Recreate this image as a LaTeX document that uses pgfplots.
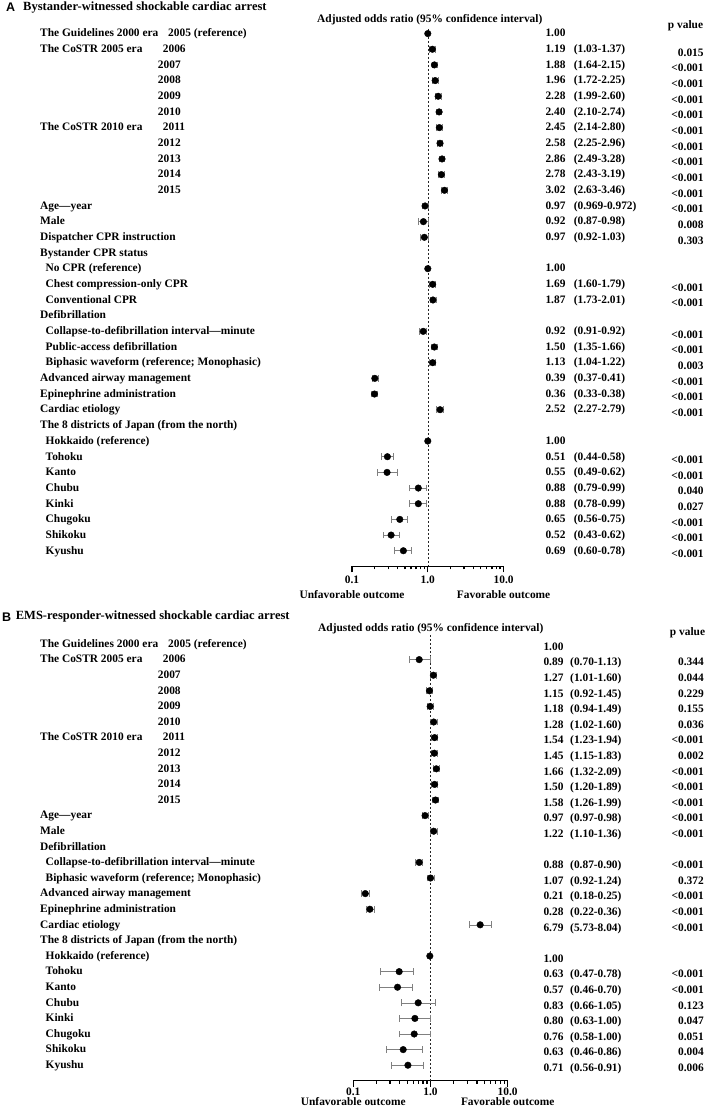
\documentclass[border=0pt]{standalone}
\usepackage{fontspec}
\setmainfont{Liberation Serif}
\newfontfamily\panelfont{Liberation Sans}
\usepackage{pgfplots}
\usepackage{pgfplotstable}
\pgfplotsset{compat=1.18}

\newcommand\fs{\fontsize{11.4}{13}\selectfont\bfseries}
\newcommand\yr[1]{\hspace*{117.7pt}#1}
\newcommand\ind[1]{\hspace*{5.5pt}#1}
\newcommand\era[2]{\makebox[122.7pt][l]{#1}#2}
\tikzset{txt/.style={font=\fs, inner sep=0pt, text height=0.66em, text depth=0pt}}

% panel A: estimate and CI text, p value
\newcommand\resA[4]{%
  \node[txt,anchor=west,xshift=41.7pt] at (axis cs:10,#1) {#2};
  \node[txt,anchor=west,xshift=70pt] at (axis cs:10,#1) {#3};
  \node[txt,anchor=east,xshift=200.2pt,yshift=-3.5pt] at (axis cs:10,#1) {#4};}
\newcommand\resB[4]{%
  \node[txt,anchor=west,xshift=35.6pt,yshift=-3pt] at (axis cs:10,#1) {#2};
  \node[txt,anchor=west,xshift=62.3pt,yshift=-3pt] at (axis cs:10,#1) {#3};
  \node[txt,anchor=east,xshift=196.3pt,yshift=-3pt] at (axis cs:10,#1) {#4};}

% plotted positions (as drawn)
\pgfplotstableread{
row or lo hi
1 1.15 1.05 1.27
2 1.22 1.13 1.33
3 1.25 1.15 1.36
4 1.37 1.26 1.49
5 1.41 1.30 1.53
6 1.42 1.31 1.54
7 1.45 1.34 1.57
8 1.54 1.42 1.67
9 1.51 1.39 1.64
10 1.66 1.53 1.80
11 0.92 0.84 1.01
12 0.875 0.75 1.02
13 0.90 0.80 1.01
16 1.16 1.06 1.27
17 1.17 1.07 1.28
19 0.87 0.78 0.97
20 1.22 1.11 1.33
21 1.16 1.06 1.27
22 0.20 0.184 0.222
23 0.198 0.18 0.217
24 1.45 1.31 1.60
27 0.293 0.24 0.35
28 0.29 0.216 0.39
29 0.75 0.57 0.97
30 0.75 0.57 0.97
31 0.427 0.335 0.54
32 0.328 0.255 0.418
33 0.476 0.363 0.615
}\ciA
\pgfplotstableread{
row or
0 1.0
15 1.0
26 1.0
}\refA
\pgfplotstableread{
row or lo hi
1 0.714 0.53 0.99
2 1.09 1.00 1.19
3 0.97 0.89 1.06
4 0.99 0.90 1.09
5 1.10 1.00 1.21
6 1.13 1.03 1.24
7 1.12 1.02 1.23
8 1.19 1.08 1.31
9 1.13 1.03 1.24
10 1.16 1.06 1.28
11 0.85 0.78 0.93
12 1.10 1.00 1.21
14 0.714 0.645 0.79
15 1.0 0.90 1.12
16 0.143 0.128 0.161
17 0.164 0.146 0.185
18 4.4 3.2 6.05
21 0.393 0.223 0.60
22 0.374 0.219 0.574
23 0.693 0.42 1.15
24 0.628 0.40 1.0
25 0.615 0.40 1.0
26 0.443 0.264 0.78
27 0.51 0.31 0.80
}\ciB
\pgfplotstableread{
row or
20 0.98
}\refB

\begin{document}
\begin{tikzpicture}
\useasboundingbox (0,0) rectangle (709pt,-1111pt);

% ---------- panel A ----------
\node[anchor=west, inner sep=0pt, font=\panelfont\fontsize{12.5}{14}\selectfont\bfseries] at (6pt,-7.5pt) {A};
\node[anchor=west, inner sep=0pt, font=\fontsize{12.5}{14}\selectfont\bfseries] at (23pt,-7.5pt) {Bystander-witnessed shockable cardiac arrest};
\node[txt] at (429.8pt,-19pt) {Adjusted odds ratio (95\% confidence interval)};
\node[txt] at (685.5pt,-25pt) {p value};

\begin{axis}[
  scale only axis, xmode=log, xmin=0.1, xmax=10, y dir=reverse,
  axis x line*=bottom, axis y line*=left,
  x axis line style={-, line width=1.3pt},
  y axis line style={draw=none},
  xtick={0.1,1,10}, xticklabels={0.1,1.0,10.0}, minor xtick={},
  tick align=outside, major tick length=6pt,
  xtick style={line width=1.3pt, black},
  ytick style={draw=none},
  xticklabel style={font=\fs},
  clip=false,
  at={(352pt,-566.4pt)}, anchor=south west,
  width=151.6pt, height=548.5pt,
  ymin=-1, ymax=34,
  ytick={0,...,33},
  yticklabel style={txt, anchor=west, xshift=-306pt},
  yticklabels={
    {\makebox[128pt][l]{The Guidelines 2000 era}2005 (reference)},
    {\era{The CoSTR 2005 era}{2006}},
    {\yr{2007}},{\yr{2008}},{\yr{2009}},{\yr{2010}},
    {\era{The CoSTR 2010 era}{2011}},
    {\yr{2012}},{\yr{2013}},{\yr{2014}},{\yr{2015}},
    {Age—year},{Male},{Dispatcher CPR instruction},{Bystander CPR status},
    {\ind{No CPR (reference)}},{\ind{Chest compression-only CPR}},{\ind{Conventional CPR}},
    {Defibrillation},
    {\ind{Collapse-to-defibrillation interval—minute}},{\ind{Public-access defibrillation}},
    {\ind{Biphasic waveform (reference; Monophasic)}},
    {Advanced airway management},{Epinephrine administration},{Cardiac etiology},
    {The 8 districts of Japan (from the north)},
    {\ind{Hokkaido (reference)}},{\ind{Tohoku}},{\ind{Kanto}},{\ind{Chubu}},
    {\ind{Kinki}},{\ind{Chugoku}},{\ind{Shikoku}},{\ind{Kyushu}}},
]
\addplot[black!85, line width=0.6pt, dash pattern=on 2pt off 2pt] coordinates {(1,-0.3) (1,34)};
\addplot[only marks, mark=none,
    error bars/.cd, x dir=both, x explicit,
    error bar style={gray, line width=0.6pt},
    error mark options={rotate=90, gray, mark size=3.4pt, line width=0.6pt}]
  table[x=or, y=row,
  x error plus expr=\thisrow{hi}-\thisrow{or},
  x error minus expr=\thisrow{or}-\thisrow{lo}] {\ciA};
\addplot[only marks, mark=*, mark size=3.3pt, black] table[x=or, y=row] {\ciA};
\addplot[only marks, mark=*, mark size=3.3pt, black] table[x=or, y=row] {\refA};

\resA{0}{1.00}{}{}
\resA{1}{1.19}{(1.03-1.37)}{0.015}
\resA{2}{1.88}{(1.64-2.15)}{<0.001}
\resA{3}{1.96}{(1.72-2.25)}{<0.001}
\resA{4}{2.28}{(1.99-2.60)}{<0.001}
\resA{5}{2.40}{(2.10-2.74)}{<0.001}
\resA{6}{2.45}{(2.14-2.80)}{<0.001}
\resA{7}{2.58}{(2.25-2.96)}{<0.001}
\resA{8}{2.86}{(2.49-3.28)}{<0.001}
\resA{9}{2.78}{(2.43-3.19)}{<0.001}
\resA{10}{3.02}{(2.63-3.46)}{<0.001}
\resA{11}{0.97}{(0.969-0.972)}{<0.001}
\resA{12}{0.92}{(0.87-0.98)}{0.008}
\resA{13}{0.97}{(0.92-1.03)}{0.303}
\resA{15}{1.00}{}{}
\resA{16}{1.69}{(1.60-1.79)}{<0.001}
\resA{17}{1.87}{(1.73-2.01)}{<0.001}
\resA{19}{0.92}{(0.91-0.92)}{<0.001}
\resA{20}{1.50}{(1.35-1.66)}{<0.001}
\resA{21}{1.13}{(1.04-1.22)}{0.003}
\resA{22}{0.39}{(0.37-0.41)}{<0.001}
\resA{23}{0.36}{(0.33-0.38)}{<0.001}
\resA{24}{2.52}{(2.27-2.79)}{<0.001}
\resA{26}{1.00}{}{}
\resA{27}{0.51}{(0.44-0.58)}{<0.001}
\resA{28}{0.55}{(0.49-0.62)}{<0.001}
\resA{29}{0.88}{(0.79-0.99)}{0.040}
\resA{30}{0.88}{(0.78-0.99)}{0.027}
\resA{31}{0.65}{(0.56-0.75)}{<0.001}
\resA{32}{0.52}{(0.43-0.62)}{<0.001}
\resA{33}{0.69}{(0.60-0.78)}{<0.001}

\node[txt] at (axis cs:0.1,35.83) {Unfavorable outcome};
\node[txt] at (axis cs:10,35.83) {Favorable outcome};
\end{axis}

% ---------- panel B ----------
\node[anchor=west, inner sep=0pt, font=\panelfont\fontsize{12.5}{14}\selectfont\bfseries] at (2pt,-616.7pt) {B};
\node[anchor=west, inner sep=0pt, font=\fontsize{12.5}{14}\selectfont\bfseries] at (15.7pt,-616.7pt) {EMS-responder-witnessed shockable cardiac arrest};
\node[txt] at (430.8pt,-628.3pt) {Adjusted odds ratio (95\% confidence interval)};
\node[txt] at (687.5pt,-631.7pt) {p value};

\begin{axis}[
  scale only axis, xmode=log, xmin=0.1, xmax=10, y dir=reverse,
  axis x line*=bottom, axis y line*=left,
  x axis line style={-, line width=1.3pt},
  y axis line style={draw=none},
  xtick={0.1,1,10}, xticklabels={0.1,1.0,10.0}, minor xtick={},
  tick align=outside, major tick length=6pt,
  xtick style={line width=1.3pt, black},
  ytick style={draw=none},
  xticklabel style={font=\fs, yshift=2pt},
  clip=false,
  at={(353.3pt,-1080.8pt)}, anchor=south west,
  width=154.4pt, height=452.4pt,
  ymin=-1, ymax=28,
  ytick={0,...,27},
  yticklabel style={txt, anchor=west, xshift=-307.3pt},
  yticklabels={
    {\makebox[128pt][l]{The Guidelines 2000 era}2005 (reference)},
    {\era{The CoSTR 2005 era}{2006}},
    {\yr{2007}},{\yr{2008}},{\yr{2009}},{\yr{2010}},
    {\era{The CoSTR 2010 era}{2011}},
    {\yr{2012}},{\yr{2013}},{\yr{2014}},{\yr{2015}},
    {Age—year},{Male},{Defibrillation},
    {\ind{Collapse-to-defibrillation interval—minute}},
    {\ind{Biphasic waveform (reference; Monophasic)}},
    {Advanced airway management},{Epinephrine administration},{Cardiac etiology},
    {The 8 districts of Japan (from the north)},
    {\ind{Hokkaido (reference)}},{\ind{Tohoku}},{\ind{Kanto}},{\ind{Chubu}},
    {\ind{Kinki}},{\ind{Chugoku}},{\ind{Shikoku}},{\ind{Kyushu}}},
]
\addplot[black!85, line width=0.6pt, dash pattern=on 2pt off 2pt] coordinates {(1,-0.58) (1,28)};
\addplot[only marks, mark=none,
    error bars/.cd, x dir=both, x explicit,
    error bar style={gray, line width=0.6pt},
    error mark options={rotate=90, gray, mark size=3.4pt, line width=0.6pt}]
  table[x=or, y=row,
  x error plus expr=\thisrow{hi}-\thisrow{or},
  x error minus expr=\thisrow{or}-\thisrow{lo}] {\ciB};
\addplot[only marks, mark=*, mark size=3.3pt, black] table[x=or, y=row] {\ciB};
\addplot[only marks, mark=*, mark size=3.3pt, black] table[x=or, y=row] {\refB};

\resB{0}{1.00}{}{}
\resB{1}{0.89}{(0.70-1.13)}{0.344}
\resB{2}{1.27}{(1.01-1.60)}{0.044}
\resB{3}{1.15}{(0.92-1.45)}{0.229}
\resB{4}{1.18}{(0.94-1.49)}{0.155}
\resB{5}{1.28}{(1.02-1.60)}{0.036}
\resB{6}{1.54}{(1.23-1.94)}{<0.001}
\resB{7}{1.45}{(1.15-1.83)}{0.002}
\resB{8}{1.66}{(1.32-2.09)}{<0.001}
\resB{9}{1.50}{(1.20-1.89)}{<0.001}
\resB{10}{1.58}{(1.26-1.99)}{<0.001}
\resB{11}{0.97}{(0.97-0.98)}{<0.001}
\resB{12}{1.22}{(1.10-1.36)}{<0.001}
\resB{14}{0.88}{(0.87-0.90)}{<0.001}
\resB{15}{1.07}{(0.92-1.24)}{0.372}
\resB{16}{0.21}{(0.18-0.25)}{<0.001}
\resB{17}{0.28}{(0.22-0.36)}{<0.001}
\resB{18}{6.79}{(5.73-8.04)}{<0.001}
\resB{20}{1.00}{}{}
\resB{21}{0.63}{(0.47-0.78)}{<0.001}
\resB{22}{0.57}{(0.46-0.70)}{<0.001}
\resB{23}{0.83}{(0.66-1.05)}{0.123}
\resB{24}{0.80}{(0.63-1.00)}{0.047}
\resB{25}{0.76}{(0.58-1.00)}{0.051}
\resB{26}{0.63}{(0.46-0.86)}{0.004}
\resB{27}{0.71}{(0.56-0.91)}{0.006}

\node[txt] at (axis cs:0.1,29.4) {Unfavorable outcome};
\node[txt] at (axis cs:10,29.4) {Favorable outcome};
\end{axis}
\end{tikzpicture}
\end{document}
